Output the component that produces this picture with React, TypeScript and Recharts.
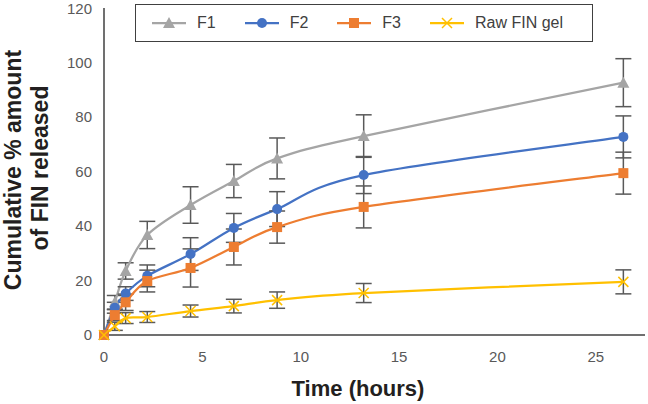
import React from 'react';
import { LineChart, Line, XAxis, YAxis, ErrorBar, Legend } from 'recharts';

// x positions read against the printed axis (0–25 labels)
const timeHours = [0, 0.55, 1.1, 2.2, 4.4, 6.6, 8.8, 13.2, 26.4];

const f1 = [0, 12, 23.5, 36.7, 47.7, 56.5, 64.8, 73, 92.6];
const f1Err = [0, 2.5, 3, 5, 6.7, 6.1, 7.5, 7.8, 8.8];
const f2 = [0, 10, 15.2, 21.7, 29.7, 39.3, 46.2, 58.7, 72.7];
const f2Err = [0, 2, 2.5, 4, 6, 5.3, 6.4, 6.8, 7.7];
const f3 = [0, 7.3, 12, 19.8, 24.6, 32.3, 39.6, 47, 59.4];
const f3Err = [0, 2, 3, 4, 7, 6.6, 5.9, 7.7, 7.7];
const raw = [0, 3.2, 6.2, 6.6, 8.8, 10.6, 12.8, 15.4, 19.5];
const rawErr = [0, 1.5, 2, 2, 2.2, 2.5, 3, 3.5, 4.4];

const xTicks = [0, 5, 10, 15, 20, 25];
const yTicks = [0, 20, 40, 60, 80, 100, 120];

const series = [
  { key: 'f1', name: 'F1', color: '#A5A5A5', shape: 'triangle' },
  { key: 'f2', name: 'F2', color: '#4472C4', shape: 'circle' },
  { key: 'f3', name: 'F3', color: '#ED7D31', shape: 'square' },
  { key: 'raw', name: 'Raw FIN gel', color: '#FFC000', shape: 'x' },
];

const data = timeHours.map((t, i) => ({
  t,
  f1: f1[i], f1Err: f1Err[i],
  f2: f2[i], f2Err: f2Err[i],
  f3: f3[i], f3Err: f3Err[i],
  raw: raw[i], rawErr: rawErr[i],
}));

const FONT = '"Liberation Sans", Arial, sans-serif';
const ERR_COLOR = '#595959';

// spreadsheet-style smoothed line (Catmull-Rom control points, tension 1/6)
const smoothCurve = (ctx: any) => {
  let pts: [number, number][] = [];
  return {
    areaStart() {},
    areaEnd() {},
    lineStart() { pts = []; },
    point(x: number, y: number) { pts.push([+x, +y]); },
    lineEnd() {
      if (!pts.length) return;
      ctx.moveTo(pts[0][0], pts[0][1]);
      for (let i = 0; i < pts.length - 1; i++) {
        const p0 = pts[i - 1] || pts[i];
        const p1 = pts[i];
        const p2 = pts[i + 1];
        const p3 = pts[i + 2] || p2;
        ctx.bezierCurveTo(
          p1[0] + (p2[0] - p0[0]) / 6, p1[1] + (p2[1] - p0[1]) / 6,
          p2[0] - (p3[0] - p1[0]) / 6, p2[1] - (p3[1] - p1[1]) / 6,
          p2[0], p2[1],
        );
      }
    },
  };
};

const Marker = ({ cx, cy, shape, color }: any) => {
  if (cx == null || cy == null) return null;
  if (shape === 'triangle') {
    return <polygon points={`${cx},${cy - 6} ${cx + 6},${cy + 5} ${cx - 6},${cy + 5}`} fill={color} />;
  }
  if (shape === 'circle') return <circle cx={cx} cy={cy} r={5} fill={color} />;
  if (shape === 'square') return <rect x={cx - 5} y={cy - 5} width={10} height={10} fill={color} />;
  return (
    <g stroke={color} strokeWidth={1.5}>
      <line x1={cx - 5} y1={cy - 5} x2={cx + 5} y2={cy + 5} />
      <line x1={cx - 5} y1={cy + 5} x2={cx + 5} y2={cy - 5} />
    </g>
  );
};

const LegendBox = () => (
  <div
    style={{
      border: '1.5px solid #404040',
      background: '#fff',
      height: 38,
      boxSizing: 'border-box',
      display: 'flex',
      alignItems: 'center',
      paddingLeft: 16,
      fontFamily: FONT,
      fontSize: 16,
      color: '#404040',
      whiteSpace: 'nowrap',
    }}
  >
    {series.map(s => (
      <div key={s.key} style={{ display: 'flex', alignItems: 'center', marginRight: 29 }}>
        <svg width={34} height={14}>
          <line x1={0} y1={7} x2={34} y2={7} stroke={s.color} strokeWidth={2.25} />
          <Marker cx={17} cy={7} shape={s.shape} color={s.color} />
        </svg>
        <span style={{ marginLeft: 11 }}>{s.name}</span>
      </div>
    ))}
  </div>
);

const YTitle = () => (
  <g fontFamily={FONT} fontWeight="bold" fontSize={23} fill="#231F20" textAnchor="middle">
    <text x={13} y={170} transform="rotate(-90 13 170)" dominantBaseline="central">
      Cumulative % amount
    </text>
    <text x={40} y={168} transform="rotate(-90 40 168)" dominantBaseline="central">
      of FIN released
    </text>
  </g>
);

const XTitle = () => (
  <text x={358} y={388} fontFamily={FONT} fontWeight="bold" fontSize={22} fill="#231F20"
    textAnchor="middle" dominantBaseline="central">
    Time (hours)
  </text>
);

export default function App() {
  return (
    <div style={{ position: 'absolute', left: 0, top: 0, width: 648, height: 404, background: '#fff' }}>
      <LineChart width={648} height={404} data={data} margin={{ top: 8, right: 3, bottom: 39, left: 0 }}>
        <XAxis
          dataKey="t"
          type="number"
          domain={[0, 27.5]}
          ticks={xTicks}
          tickLine={false}
          tickMargin={10}
          axisLine={{ stroke: '#404040', strokeWidth: 1.5 }}
          tick={{ fill: '#595959', fontSize: 15, fontFamily: FONT }}
          height={30}
          label={{ content: () => <XTitle /> }}
        />
        <YAxis
          type="number"
          domain={[0, 120]}
          ticks={yTicks}
          width={104}
          tickLine={false}
          tickMargin={6}
          axisLine={{ stroke: '#404040', strokeWidth: 1.5 }}
          tick={{ fill: '#595959', fontSize: 15, fontFamily: FONT }}
          label={{ content: () => <YTitle /> }}
        />
        <Legend
          layout="horizontal"
          verticalAlign="middle"
          align="center"
          wrapperStyle={{ position: 'absolute', left: 135, top: 4, width: 458, height: 38 }}
          content={() => <LegendBox />}
        />
        {series.map(s => (
          <Line
            key={s.key}
            dataKey={s.key}
            name={s.name}
            type={smoothCurve as any}
            stroke={s.color}
            strokeWidth={2.25}
            isAnimationActive={false}
            dot={(p: any) => <Marker key={`${s.key}-${p.index}`} cx={p.cx} cy={p.cy} shape={s.shape} color={s.color} />}
            activeDot={false}
          >
            <ErrorBar dataKey={`${s.key}Err`} direction="y" width={8} stroke={ERR_COLOR} strokeWidth={1.5} />
          </Line>
        ))}
      </LineChart>
    </div>
  );
}
